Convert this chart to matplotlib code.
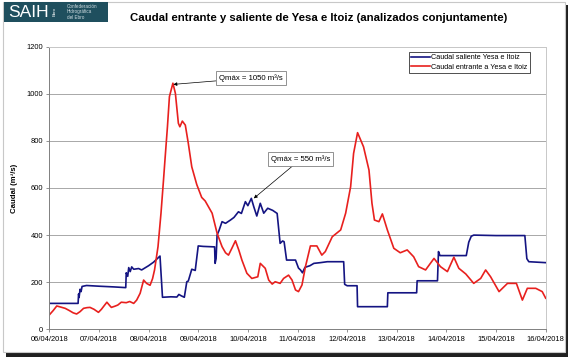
import matplotlib.pyplot as plt
import matplotlib.patches as patches

plt.rcParams['font.family'] = ['Liberation Sans', 'DejaVu Sans']

# days counted from 06/04/2018 00:00
tick_labels = ["06/04/2018", "07/04/2018", "08/04/2018", "09/04/2018", "10/04/2018",
               "11/04/2018", "12/04/2018", "13/04/2018", "14/04/2018", "15/04/2018", "16/04/2018"]

sal_t = [0.0, 0.58, 0.59, 0.60, 0.62, 0.64, 0.66, 0.75, 1.0, 1.3, 1.54, 1.55, 1.58, 1.60, 1.63,
         1.66, 1.70, 1.80, 1.86, 2.0, 2.1, 2.23, 2.28, 2.45, 2.57, 2.61, 2.66, 2.72, 2.77, 2.80,
         2.87, 2.94, 3.0, 3.1, 3.33, 3.34, 3.36, 3.38, 3.42, 3.48, 3.55, 3.65, 3.72, 3.81, 3.87,
         3.95, 4.0, 4.07, 4.12, 4.18, 4.25, 4.32, 4.40, 4.50, 4.59, 4.65, 4.70, 4.73, 4.78, 4.96,
         5.02, 5.06, 5.10, 5.15, 5.25, 5.33, 5.46, 5.6, 5.93, 5.95, 6.0, 6.2, 6.21, 6.81, 6.82,
         7.40, 7.41, 7.82, 7.84, 7.87, 8.40, 8.45, 8.50, 8.55, 9.0, 9.58, 9.62, 9.66, 10.0]
sal_q = [110, 110, 150, 135, 170, 160, 182, 186, 183, 180, 177, 240, 225, 262, 245,
         265, 255, 258, 252, 270, 285, 311, 136, 138, 137, 148, 142, 136, 202, 205,
         255, 250, 354, 352, 350, 280, 300, 400, 420, 457, 450, 464, 475, 499, 492,
         542, 525, 556, 520, 481, 535, 493, 514, 505, 492, 365, 375, 372, 294, 294,
         260, 252, 240, 263, 270, 280, 283, 287, 287, 191, 185, 185, 96, 96, 155,
         155, 206, 206, 330, 313, 313, 370, 395, 400, 398, 398, 300, 287, 283]

ent_t = [0.0, 0.08, 0.15, 0.22, 0.32, 0.40, 0.48, 0.55, 0.62, 0.69, 0.76, 0.82, 0.90, 0.99,
         1.05, 1.09, 1.16, 1.22, 1.25, 1.32, 1.38, 1.45, 1.55, 1.62, 1.70, 1.76, 1.83, 1.90,
         1.96, 2.03, 2.08, 2.12, 2.19, 2.25, 2.30, 2.33, 2.38, 2.42, 2.49, 2.54, 2.60, 2.63,
         2.68, 2.74, 2.80, 2.87, 2.97, 3.07, 3.14, 3.28, 3.38, 3.48, 3.55, 3.61, 3.68, 3.75,
         3.82, 3.88, 3.98, 4.08, 4.20, 4.25, 4.35, 4.42, 4.49, 4.55, 4.65, 4.72, 4.82, 4.89,
         4.96, 5.02, 5.09, 5.16, 5.26, 5.39, 5.49, 5.56, 5.70, 5.87, 5.97, 6.07, 6.13, 6.21,
         6.33, 6.44, 6.50, 6.55, 6.64, 6.71, 6.81, 6.94, 7.07, 7.21, 7.34, 7.44, 7.58, 7.75,
         7.88, 8.02, 8.15, 8.25, 8.39, 8.55, 8.69, 8.79, 8.89, 9.06, 9.23, 9.41, 9.53, 9.63,
         9.80, 9.93, 10.0]
ent_q = [61, 80, 99, 95, 89, 80, 70, 65, 75, 89, 92, 93, 85, 72,
         85, 96, 115, 100, 93, 98, 103, 115, 113, 118, 110, 124, 153, 209,
         195, 187, 215, 252, 351, 493, 632, 719, 860, 988, 1045, 1002, 875, 860,
         884, 867, 790, 690, 615, 560, 545, 493, 408, 351, 325, 315, 345, 376,
         335, 294, 238, 216, 223, 280, 259, 209, 192, 202, 195, 216, 230, 209,
         167, 160, 188, 266, 354, 354, 315, 330, 393, 422, 493, 605, 747, 835,
         775, 676, 535, 464, 457, 490, 422, 344, 325, 337, 308, 266, 252, 301,
         266, 245, 306, 259, 235, 195, 216, 252, 223, 160, 195, 195, 124, 174,
         174, 160, 132]

fig = plt.figure(figsize=(5.71, 3.57), dpi=100)

# frame with shadow
fig.patches.append(patches.Rectangle((6 / 571, 0.0), 562 / 571, 352 / 357, transform=fig.transFigure,
                                     facecolor='#202020', edgecolor='none', zorder=0))
fig.patches.append(patches.Rectangle((3 / 571, 5 / 357), 562 / 571, 350 / 357, transform=fig.transFigure,
                                     facecolor='white', edgecolor='#c8c8c8', linewidth=0.8, zorder=1))

# logo
fig.patches.append(patches.Rectangle((4 / 571, 1 - 22 / 357), 104 / 571, 20 / 357, transform=fig.transFigure,
                                     facecolor='#1f4f5e', edgecolor='none', zorder=2))
fig.text(8 / 571, 1 - 12.5 / 357, "SAIH", color='white', fontsize=12.5, va='center', ha='left', zorder=3)
fig.text(55 / 571, 1 - 12 / 357, "Ebro", color='white', fontsize=3.2, rotation=90, va='center',
         ha='center', zorder=3)
fig.text(67 / 571, 1 - 12 / 357, "Confederación\nHidrográfica\ndel Ebro", color='#d0dde2', fontsize=3.3,
         va='center', ha='left', linespacing=1.1, zorder=3)

fig.text(319 / 571, 1 - 18 / 357, "Caudal entrante y saliente de Yesa e Itoiz (analizados conjuntamente)",
         fontsize=8.2, fontweight='bold', ha='center', va='center')

ax = fig.add_axes([49.3 / 571, 1 - 329.3 / 357, (545.7 - 49.3) / 571, (329.3 - 46.7) / 357])
ax.set_zorder(5)
ax.plot(sal_t, sal_q, color='#141482', linewidth=1.2, label='Caudal saliente Yesa e Itoiz')
ax.plot(ent_t, ent_q, color='#e8201e', linewidth=1.2, label='Caudal entrante a Yesa e Itoiz')

ax.set_xlim(0, 10)
ax.set_ylim(0, 1200)
ax.set_yticks(range(0, 1201, 200))
ax.set_xticks(range(11))
ax.set_xticklabels(tick_labels)
ax.tick_params(labelsize=5.4, length=2.5, width=0.6, color='#808080', pad=2)
ax.grid(axis='y', color='#a8a8a8', linewidth=0.7)
ax.set_axisbelow(True)
for s in ['left', 'bottom']:
    ax.spines[s].set_color('#808080')
    ax.spines[s].set_linewidth(0.7)
for s in ['top', 'right']:
    ax.spines[s].set_color('#c8c8c8')
    ax.spines[s].set_linewidth(0.7)
ax.set_ylabel("Caudal (m³/s)", fontsize=5.6, fontweight='bold', labelpad=6)

leg = ax.legend(loc='upper right', bbox_to_anchor=(0.9675, 0.982), fontsize=5.2, frameon=True,
                fancybox=False, handlelength=2.6, handletextpad=0.1, borderpad=0.35, labelspacing=0.35,
                borderaxespad=0)
leg.get_frame().set_edgecolor('black')
leg.get_frame().set_linewidth(0.6)

box = dict(boxstyle='square,pad=0.35', facecolor='white', edgecolor='#808080', linewidth=0.6)
ax.annotate("Qmáx = 1050 m³/s", xy=(2.5, 1040), xytext=(3.42, 1067), fontsize=5.6, va='center', ha='left',
            bbox=box, arrowprops=dict(arrowstyle='-|>', color='black', lw=0.5, mutation_scale=5,
                                      shrinkA=0, shrinkB=0))
ax.annotate("Qmáx = 550 m³/s", xy=(4.12, 556), xytext=(4.47, 723), fontsize=5.6, va='center', ha='left',
            bbox=box, arrowprops=dict(arrowstyle='-|>', color='black', lw=0.5, mutation_scale=5,
                                      shrinkA=0, shrinkB=0))

fig.savefig("out.png", dpi=100)
